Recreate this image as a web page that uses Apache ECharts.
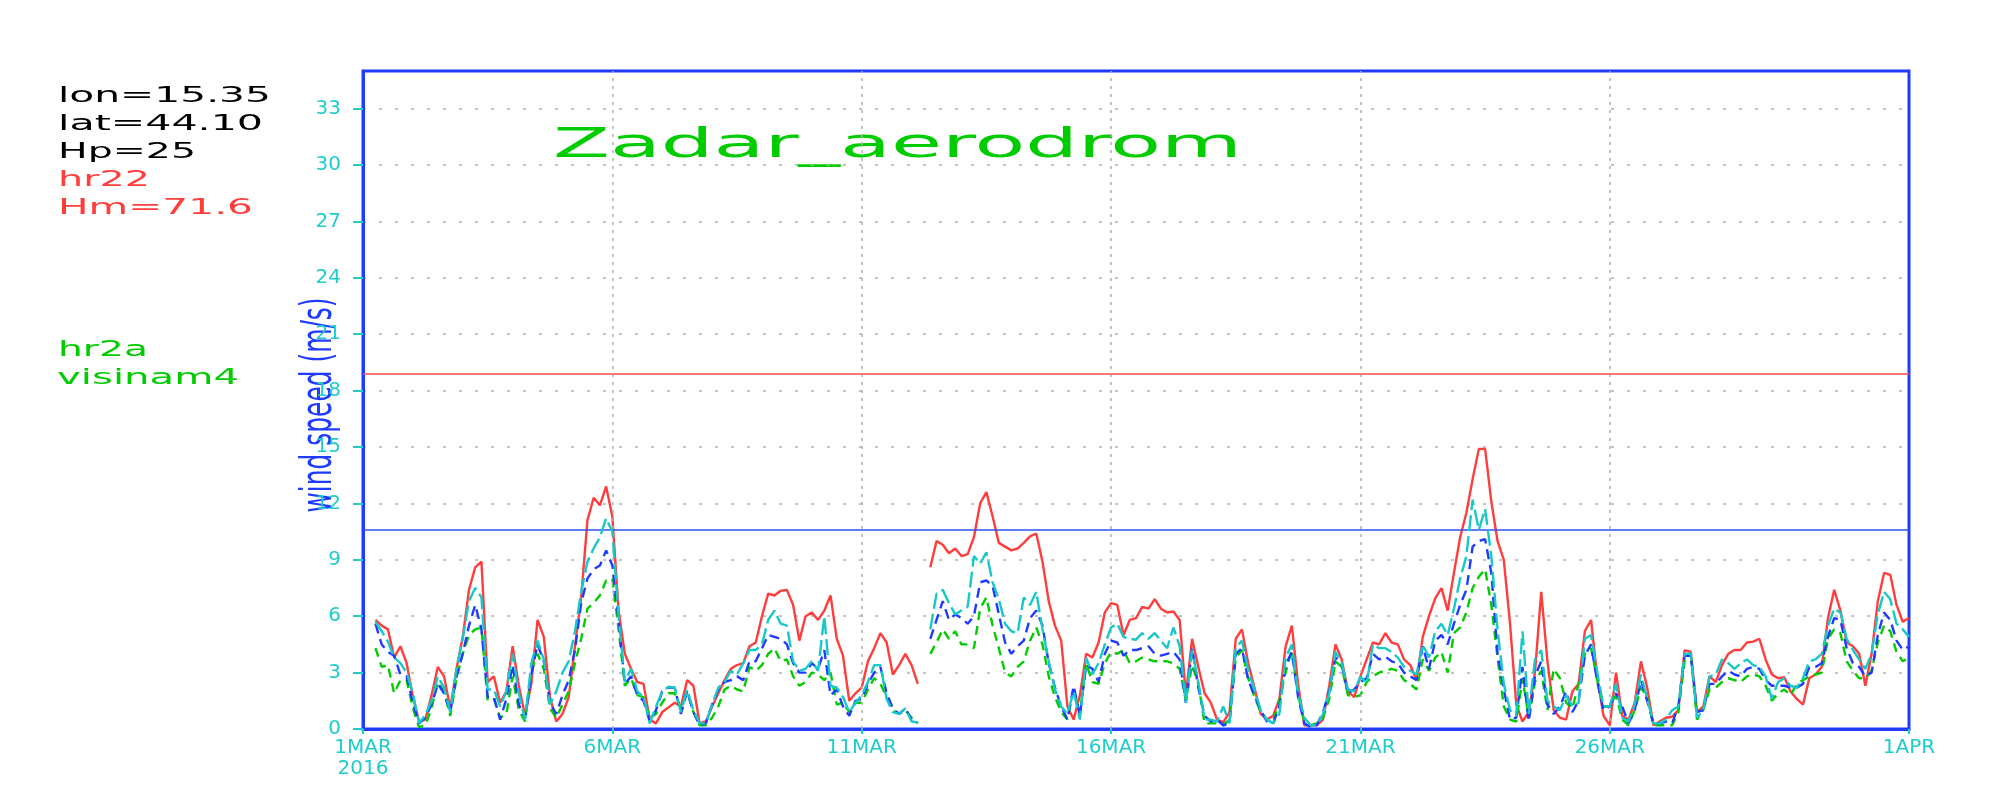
<!DOCTYPE html>
<html><head><meta charset="utf-8">
<script src="https://cdn.jsdelivr.net/npm/echarts@6/dist/echarts.min.js"></script>
<style>html,body{margin:0;padding:0;background:#fff}#c{width:2000px;height:800px}</style>
</head><body><div id="c"></div>
<script>
// time step of the series: 3-hourly, starting 1 MAR 2016 00 UTC (x in days)
const stepDays = 0.125;

const hr22Red = [
null,null,5.8,5.5,5.3,3.8,4.4,3.5,
1.7,0.4,0.5,1.8,3.3,2.8,1.1,3.2,
4.9,7.4,8.6,8.9,2.5,2.8,1.4,2.0,
4.4,2.3,0.7,2.4,5.8,4.9,1.7,0.4,
0.8,1.7,4.4,7.0,11.1,12.3,11.9,12.9,
11.3,6.3,4.0,3.2,2.5,2.4,0.5,0.3,
0.9,1.15,1.4,1.2,2.6,2.3,0.3,0.4,
1.2,1.9,2.6,3.2,3.4,3.5,4.4,4.6,
6.0,7.2,7.1,7.35,7.4,6.6,4.7,6.0,
6.2,5.8,6.3,7.1,4.8,3.9,1.5,1.9,
2.2,3.6,4.3,5.1,4.6,2.9,3.4,4.0,
3.4,2.4,null,8.6,10.0,9.8,9.35,9.6,
9.2,9.3,10.2,12.0,12.6,11.3,9.9,9.7,
9.5,9.6,9.9,10.25,10.4,8.9,6.8,5.5,
4.7,1.2,0.5,1.8,4.0,3.8,4.6,6.2,
6.7,6.6,5.0,5.8,5.9,6.5,6.4,6.9,
6.4,6.2,6.25,5.8,1.8,4.8,3.3,1.9,
1.4,0.5,0.35,0.9,4.8,5.3,3.5,2.2,
0.8,0.5,0.7,1.6,4.4,5.5,2.4,0.2,
0.2,0.2,0.5,2.3,4.5,3.7,2.0,1.7,
2.8,3.7,4.6,4.5,5.1,4.6,4.5,3.7,
3.4,2.6,4.9,6.0,6.95,7.5,6.3,8.3,
10.2,11.5,13.3,14.9,14.9,12.1,10.0,9.0,
5.6,1.3,0.4,0.9,3.0,7.3,3.6,1.0,
0.6,0.5,2.0,2.4,5.2,5.8,2.7,0.7,
0.2,3.0,0.7,0.5,1.4,3.6,2.2,0.2,
0.4,0.6,0.65,1.0,4.2,4.1,0.9,1.2,
2.8,2.5,3.4,4.0,4.2,4.2,4.6,4.65,
4.8,3.7,2.9,2.7,2.75,2.0,1.6,1.3,
2.7,2.9,3.3,5.9,7.4,6.3,4.6,4.4,
4.0,2.3,4.0,6.8,8.3,8.2,6.6,5.7,5.9
];

const cyanRun = [
null,null,5.7,5.2,4.65,3.8,3.5,3.0,
1.9,0.3,0.75,1.5,2.8,2.2,0.9,3.2,
4.8,6.8,7.5,7.0,2.1,2.1,1.2,2.0,
4.0,1.9,0.5,3.5,4.7,3.7,1.3,2.0,
3.0,3.6,5.2,7.3,8.9,9.6,10.2,11.2,
10.5,6.0,2.5,3.2,2.0,1.7,0.3,1.2,
2.0,2.25,2.2,0.9,2.1,1.0,0.3,0.3,
1.3,2.2,2.5,3.1,2.9,3.5,4.2,4.2,
4.5,5.8,6.3,5.6,5.5,3.6,3.1,3.2,
3.6,3.1,6.0,2.3,2.2,1.7,0.9,1.4,
1.8,2.5,3.4,3.4,1.6,0.9,0.8,1.1,
0.4,0.35,null,5.3,7.2,7.4,6.7,6.1,
6.3,6.5,9.2,8.8,9.4,7.8,6.9,5.6,
5.2,5.1,7.0,6.6,7.3,5.3,3.6,2.1,
1.2,0.8,2.0,0.5,3.8,2.9,3.5,4.5,
5.4,5.6,4.9,4.8,4.75,5.1,4.8,5.1,
4.7,4.3,5.4,4.4,1.4,4.2,2.5,0.5,
0.5,0.4,1.2,0.3,4.3,4.7,3.1,2.1,
1.0,0.5,0.3,0.8,3.8,4.5,1.9,0.6,
0.2,0.2,0.8,1.9,4.1,3.5,2.1,2.0,
2.8,2.4,4.5,4.3,4.3,4.1,3.8,3.3,
3.1,2.9,4.5,3.8,5.2,5.6,5.0,6.4,
8.0,9.2,12.2,10.6,11.7,9.2,5.3,2.4,
1.0,0.7,5.2,0.8,3.7,4.2,1.5,1.2,
1.0,1.8,1.2,1.4,4.8,5.0,3.0,1.2,
1.2,2.4,0.6,0.4,1.3,2.9,1.6,0.3,
0.3,0.5,1.0,1.2,4.0,4.0,0.6,1.0,
2.8,2.9,3.7,3.5,3.2,3.5,3.7,3.4,
3.3,2.8,1.6,2.5,2.7,2.3,2.2,2.7,
3.6,3.7,4.0,5.5,6.4,6.2,4.8,4.2,
3.7,3.2,4.0,6.1,7.3,6.9,5.6,5.3,4.9
];

const blueRun = [
null,null,5.6,4.5,4.1,3.9,2.9,2.8,
1.4,0.3,0.6,1.3,2.4,1.9,0.9,2.8,
4.0,5.5,6.6,5.3,1.7,1.7,0.5,1.6,
3.4,1.3,0.6,2.9,4.5,3.6,1.4,0.8,
1.8,2.6,4.2,6.7,8.0,8.5,8.7,9.5,
8.7,5.8,2.4,2.8,1.8,1.5,0.4,1.0,
2.0,2.2,2.2,0.8,2.0,0.9,0.2,0.3,
1.3,2.1,2.5,2.6,2.8,2.6,3.6,3.6,
4.3,5.0,4.9,4.8,4.5,3.5,3.0,3.0,
3.5,3.2,4.2,1.8,2.1,1.2,0.7,1.5,
1.6,2.4,3.0,3.3,1.9,1.1,0.8,1.1,
0.5,0.35,null,4.8,5.8,6.8,5.8,6.1,
5.9,5.6,6.0,7.8,7.9,7.6,6.1,4.6,
4.0,4.4,4.7,5.9,6.3,5.5,3.5,2.2,
1.2,0.5,2.3,0.7,3.4,3.2,2.5,4.0,
4.7,4.6,3.9,4.2,4.2,4.3,4.4,4.0,
3.9,4.0,4.1,3.7,1.4,4.3,2.2,0.7,
0.4,0.5,0.2,0.3,4.0,4.3,2.6,1.8,
1.0,0.4,0.3,1.2,3.4,4.1,1.7,0.3,
0.1,0.2,0.9,2.0,3.8,3.4,1.9,2.1,
2.5,2.7,4.0,3.7,3.85,3.6,3.5,3.0,
2.8,2.6,4.4,3.2,4.7,5.0,4.5,5.6,
6.6,7.4,9.7,10.0,10.1,8.3,4.0,2.1,
0.5,0.6,3.3,0.4,2.8,3.6,1.3,0.8,
1.2,2.0,0.9,1.5,3.9,4.5,2.5,1.0,
1.2,1.9,1.2,0.3,1.0,2.6,1.5,0.3,
0.3,0.4,0.3,1.2,3.9,3.9,0.9,1.0,
2.4,2.4,2.8,3.1,2.9,2.8,3.2,3.3,
3.2,2.6,2.3,2.3,2.3,2.2,2.2,2.4,
3.3,3.3,3.5,4.9,5.9,5.8,4.3,3.5,
3.3,2.8,3.0,5.0,6.2,5.8,4.7,4.2,4.4
];

const greenRun = [
null,null,4.3,3.3,3.4,1.9,2.6,2.6,
1.1,0.1,0.2,1.1,2.5,2.0,0.7,2.7,
4.0,5.0,5.3,5.4,1.5,1.6,0.6,0.8,
2.8,1.0,0.4,3.1,4.0,3.2,1.1,0.6,
1.3,2.0,3.5,4.8,6.4,6.7,7.1,7.9,
8.0,5.3,2.3,2.7,1.8,1.7,0.6,0.8,
1.4,1.9,1.9,1.1,2.0,0.9,0.2,0.2,
0.6,1.2,2.1,2.3,2.1,2.0,3.3,3.1,
3.4,4.0,4.3,3.6,3.7,2.8,2.3,2.5,
3.0,2.9,2.6,3.0,1.3,1.4,0.9,1.4,
1.4,2.1,2.7,2.4,1.7,1.0,0.8,1.0,
0.6,0.3,null,4.0,4.6,5.3,4.8,5.2,
4.5,4.5,4.3,6.4,7.0,5.5,4.3,3.0,
2.8,3.3,3.6,4.7,5.4,4.5,2.8,1.7,
0.9,0.5,2.1,0.8,3.5,2.5,2.4,3.5,
4.1,4.0,4.2,3.5,3.6,3.8,3.7,3.6,
3.6,3.6,3.5,3.2,1.5,3.4,2.4,0.3,
0.3,0.3,0.2,0.5,3.8,4.2,2.7,1.7,
0.9,0.5,0.4,1.5,3.0,4.2,1.8,0.4,
0.2,0.3,0.6,1.6,3.6,3.3,1.8,1.7,
1.8,2.5,2.8,3.0,3.1,3.2,3.1,2.6,
2.4,2.1,3.7,3.1,3.8,4.1,3.0,5.1,
5.4,6.2,7.5,8.1,8.5,6.6,3.8,1.2,
0.5,0.4,2.7,0.6,2.5,3.1,1.0,3.2,
2.7,1.4,1.1,2.4,4.0,4.3,2.6,1.2,
1.2,1.8,0.5,0.2,1.0,2.2,1.7,0.2,
0.2,0.2,0.2,0.9,3.6,3.9,0.5,1.0,
2.1,2.2,2.5,2.7,2.6,2.5,2.8,2.9,
2.8,2.3,1.5,1.9,2.1,1.8,2.4,2.6,
2.8,2.9,3.0,4.8,5.3,5.1,3.6,3.1,
2.7,2.7,3.1,4.6,5.5,5.2,4.1,3.6,3.8
];

// reference levels (m/s)
const redLevel = 18.9;
const blueLevel = 10.6;

// axis ticks
const xTickDays = [0, 5, 10, 15, 20, 25, 31];
const xTickLabels = ['1MAR\n2016', '6MAR', '11MAR', '16MAR', '21MAR', '26MAR', '1APR'];
const xGridDays = [5, 10, 15, 20, 25];
const yTicks = [0, 3, 6, 9, 12, 15, 18, 21, 24, 27, 30, 33];

// header texts
const infoBlack = ['lon=15.35', 'lat=44.10', 'Hp=25'];
const infoRed = ['hr22', 'Hm=71.6'];
const infoGreen = ['hr2a', 'visinam4'];
const titleText = 'Zadar_aerodrom';
const yName = 'wind speed (m/s)';

const C = {
  red: '#ff3d3d', blue: '#1f3bff', cyan: '#18c8c8', green: '#00cc00',
  frame: '#1f3bff', grid: '#b0b0b0', label: '#1fcccc', black: '#000000'
};
const FONT = '"DejaVu Sans", sans-serif';

function pairs(arr) { return arr.map((v, i) => [i * stepDays, v]); }

const mctx = document.createElement('canvas').getContext('2d');
function fitText(str, x, cy, w, size, color, extra) {
  const font = size + 'px ' + FONT;
  mctx.font = font;
  const m = mctx.measureText(str).width;
  return Object.assign({
    type: 'text', x: x, y: cy, scaleX: w / m, silent: true,
    style: { text: str, font: font, fill: color, align: 'left', verticalAlign: 'middle',
             textAlign: 'left', textVerticalAlign: 'middle' }
  }, extra || {});
}

const graphics = [
  fitText(infoBlack[0], 58, 97, 213, 21, C.black),
  fitText(infoBlack[1], 58, 125, 205, 21, C.black),
  fitText(infoBlack[2], 58, 153, 138, 21, C.black),
  fitText(infoRed[0], 58, 181, 92, 21, C.red),
  fitText(infoRed[1], 58, 209, 195, 21, C.red),
  fitText(infoGreen[0], 58, 351, 90, 21, C.green),
  fitText(infoGreen[1], 57, 379, 182, 21, C.green),
  fitText(titleText, 553, 147, 689, 40, C.green)
];
(function () {
  const font = '42px ' + FONT;
  mctx.font = font;
  const m = mctx.measureText(yName).width;
  graphics.push({
    type: 'text', x: 320, y: 405, rotation: Math.PI / 2, scaleX: 215 / m, silent: true,
    style: { text: yName, font: font, fill: C.blue, align: 'center', verticalAlign: 'middle',
             textAlign: 'center', textVerticalAlign: 'middle' }
  });
})();

const chart = echarts.init(document.getElementById('c'), null, { renderer: 'canvas' });
const lineBase = { type: 'line', showSymbol: false, symbol: 'none', connectNulls: false, animation: false, silent: true };

chart.setOption({
  backgroundColor: '#ffffff',
  animation: false,
  grid: { left: 363, right: 91, top: 71, bottom: 71, show: true, borderColor: C.frame, borderWidth: 3, backgroundColor: 'transparent' },
  xAxis: {
    type: 'value', min: 0, max: 31, interval: 5,
    axisLine: { show: true, lineStyle: { color: C.frame, width: 3 } },
    axisTick: { show: true, customValues: xTickDays, length: 5, lineStyle: { color: C.label, width: 2 } },
    axisLabel: {
      show: true, customValues: xTickDays, color: C.label, fontFamily: FONT, fontSize: 20, lineHeight: 21, margin: 8,
      formatter: v => { const i = xTickDays.indexOf(v); return i >= 0 ? xTickLabels[i] : ''; }
    },
    splitLine: { show: false }
  },
  yAxis: {
    type: 'value', min: 0, max: 35, interval: 3,
    axisLine: { show: true, lineStyle: { color: C.frame, width: 3 } },
    axisTick: { show: true, customValues: yTicks, length: 10, lineStyle: { color: C.label, width: 2 } },
    axisLabel: { show: true, customValues: yTicks, color: C.label, fontFamily: FONT, fontSize: 20, margin: 22 },
    splitLine: { show: true, lineStyle: { color: C.grid, width: 1.5, type: [3, 13] } }
  },
  graphic: graphics,
  series: [
    Object.assign({}, lineBase, {
      name: 'grid', data: [], z: 1,
      markLine: {
        silent: true, symbol: ['none', 'none'], label: { show: false }, animation: false,
        lineStyle: { color: C.grid, width: 1.5, type: [3, 5] },
        data: xGridDays.map(d => ({ xAxis: d }))
      }
    }),
    Object.assign({}, lineBase, {
      name: 'hr22', data: pairs(hr22Red), z: 3,
      lineStyle: { color: C.red, width: 2.4, type: 'solid' }, itemStyle: { color: C.red },
      markLine: {
        silent: true, symbol: ['none', 'none'], label: { show: false }, animation: false,
        data: [
          { yAxis: redLevel, lineStyle: { color: '#ff4a4a', width: 1.6, type: 'solid' } },
          { yAxis: blueLevel, lineStyle: { color: '#3050f0', width: 1.6, type: 'solid' } }
        ]
      }
    }),
    Object.assign({}, lineBase, {
      name: 'green', data: pairs(greenRun), z: 4,
      lineStyle: { color: C.green, width: 2.4, type: [9, 6] }, itemStyle: { color: C.green }
    }),
    Object.assign({}, lineBase, {
      name: 'blue', data: pairs(blueRun), z: 5,
      lineStyle: { color: C.blue, width: 2.4, type: [10, 6] }, itemStyle: { color: C.blue }
    }),
    Object.assign({}, lineBase, {
      name: 'cyan', data: pairs(cyanRun), z: 6,
      lineStyle: { color: C.cyan, width: 2.4, type: [16, 5] }, itemStyle: { color: C.cyan }
    })
  ]
});
</script>
</body></html>
